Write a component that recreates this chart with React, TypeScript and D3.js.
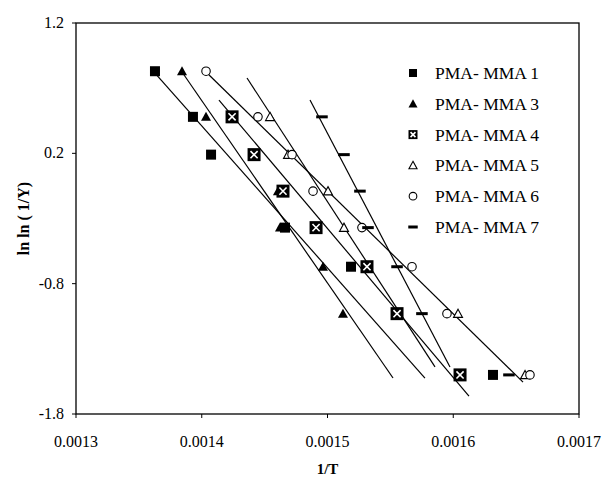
import * as d3 from "d3";

// axis ticks
const xTicks = [0.0013, 0.0014, 0.0015, 0.0016, 0.0017];
const yTicks = [1.2, 0.2, -0.8, -1.8];

const seriesNames = ["PMA- MMA 1", "PMA- MMA 3", "PMA- MMA 4", "PMA- MMA 5", "PMA- MMA 6", "PMA- MMA 7"];
const seriesShapes = ["square", "triangle", "xsquare", "otriangle", "circle", "dash"];

// points (1/T, ln ln(1/Y))
const mma1X = [0.0013628, 0.001393, 0.0014074, 0.0014662, 0.0015187, 0.0016316];
const mma1Y = [0.83, 0.48, 0.19, -0.37, -0.67, -1.5];
const mma3X = [0.0013843, 0.0014034, 0.0014606, 0.0014622, 0.0014964, 0.0015123];
const mma3Y = [0.83, 0.48, -0.09, -0.37, -0.67, -1.03];
const mma4X = [0.0014241, 0.0014416, 0.0014646, 0.0014909, 0.0015314, 0.0015553, 0.0016054];
const mma4Y = [0.48, 0.19, -0.09, -0.37, -0.67, -1.03, -1.5];
const mma5X = [0.0014543, 0.0014686, 0.0015004, 0.0015131, 0.0016038, 0.0016571];
const mma5Y = [0.48, 0.19, -0.09, -0.37, -1.03, -1.5];
const mma6X = [0.0014034, 0.0014447, 0.0014718, 0.0014885, 0.0015274, 0.0015672, 0.001595, 0.001661];
const mma6Y = [0.83, 0.48, 0.19, -0.09, -0.37, -0.67, -1.03, -1.5];
const mma7X = [0.0014956, 0.0015131, 0.0015258, 0.0015322, 0.0015553, 0.0015751, 0.0016443];
const mma7Y = [0.48, 0.19, -0.09, -0.37, -0.67, -1.03, -1.5];

// fitted lines, endpoints [x0, y0, x1, y1]
const fit1 = [0.0013628, 0.816, 0.0015775, -1.524];
const fit3 = [0.0013843, 0.824, 0.0015521, -1.524];
const fit4 = [0.0014137, 0.609, 0.0016125, -1.662];
const fit5 = [0.001436, 0.778, 0.0015855, -1.439];
const fit6 = [0.0014034, 0.824, 0.0016555, -1.555];
const fit7 = [0.0014861, 0.609, 0.0015974, -1.439];

const seriesX = [mma1X, mma3X, mma4X, mma5X, mma6X, mma7X];
const seriesY = [mma1Y, mma3Y, mma4Y, mma5Y, mma6Y, mma7Y];
const fits = [fit1, fit3, fit4, fit5, fit6, fit7];

const W = 603;
const H = 478;
const margin = { top: 23, right: 24, bottom: 64, left: 76 };
const FONT = "'Liberation Serif', 'Times New Roman', serif";

function Marker({ shape, x, y, s }: { shape: string; x: number; y: number; s: number }) {
  const h = s / 2;
  switch (shape) {
    case "square":
      return <rect x={x - h} y={y - h} width={s} height={s} fill="#000" />;
    case "triangle":
      return <path d={`M${x},${y - h}L${x + h},${y + h * 0.8}L${x - h},${y + h * 0.8}Z`} fill="#000" />;
    case "xsquare": {
      const q = h * 0.55;
      return (
        <g>
          <rect x={x - h} y={y - h} width={s} height={s} fill="#000" />
          <path d={`M${x - q},${y - q}L${x + q},${y + q}M${x + q},${y - q}L${x - q},${y + q}`} stroke="#fff" strokeWidth={1.6} />
        </g>
      );
    }
    case "otriangle":
      return (
        <path
          d={`M${x},${y - h * 0.9}L${x + h * 0.9},${y + h * 0.75}L${x - h * 0.9},${y + h * 0.75}Z`}
          fill="#fff"
          stroke="#000"
          strokeWidth={1.1}
        />
      );
    case "circle":
      return <circle cx={x} cy={y} r={h * 0.85} fill="#fff" stroke="#000" strokeWidth={1.1} />;
    default:
      return <rect x={x - h * 1.05} y={y - 1.5} width={s * 1.05} height={3} fill="#000" />;
  }
}

export default function App() {
  const width = W - margin.left - margin.right;
  const height = H - margin.top - margin.bottom;

  const xScale = d3.scaleLinear().domain([0.0013, 0.0017]).range([margin.left, margin.left + width]);
  const yScale = d3.scaleLinear().domain([-1.8, 1.2]).range([margin.top + height, margin.top]);
  const line = d3
    .line<[number, number]>()
    .x((d) => xScale(d[0]))
    .y((d) => yScale(d[1]));

  const markerSize = [10, 10, 13, 10, 10, 11];
  const legendSize = [8, 9, 9, 9, 9, 9];

  return (
    <svg
      width={W}
      height={H}
      style={{ position: "absolute", left: 0, top: 0, background: "#fff" }}
      fontFamily={FONT}
    >
      {/* fitted lines */}
      {fits.map((f, i) => (
        <path
          key={"fit" + i}
          d={line([[f[0], f[1]], [f[2], f[3]]]) ?? ""}
          stroke="#000"
          strokeWidth={1.2}
          fill="none"
        />
      ))}

      {/* points */}
      {seriesX.map((xs, si) =>
        xs.map((xv, j) => (
          <Marker
            key={`p${si}-${j}`}
            shape={seriesShapes[si]}
            x={xScale(xv)}
            y={yScale(seriesY[si][j])}
            s={markerSize[si]}
          />
        ))
      )}

      {/* frame */}
      <rect
        x={margin.left}
        y={margin.top}
        width={width}
        height={height}
        fill="none"
        stroke="#000"
        strokeWidth={1.3}
      />

      {/* x axis ticks */}
      {xTicks.map((t) => (
        <g key={"xt" + t}>
          <line x1={xScale(t)} x2={xScale(t)} y1={margin.top + height} y2={margin.top + height + 4} stroke="#000" />
          <text x={xScale(t)} y={margin.top + height + 33} textAnchor="middle" fontSize={16}>
            {t.toFixed(4)}
          </text>
        </g>
      ))}

      {/* y axis ticks */}
      {yTicks.map((t) => (
        <g key={"yt" + t}>
          <line x1={margin.left - 4} x2={margin.left} y1={yScale(t)} y2={yScale(t)} stroke="#000" />
          <text x={margin.left - 12} y={yScale(t) + 5} textAnchor="end" fontSize={16}>
            {t.toFixed(1)}
          </text>
        </g>
      ))}

      {/* axis titles */}
      <text x={margin.left + width / 2} y={H - 4} textAnchor="middle" fontSize={15} fontWeight="bold">
        1/T
      </text>
      <text
        transform={`translate(29,${margin.top + height / 2}) rotate(-90)`}
        textAnchor="middle"
        fontSize={16}
        fontWeight="bold"
      >
        ln ln ( 1/Y)
      </text>

      {/* legend */}
      {seriesNames.map((name, i) => {
        const ly = 73 + i * 30.8;
        return (
          <g key={"lg" + i}>
            <Marker shape={seriesShapes[i]} x={413} y={ly} s={legendSize[i]} />
            <text x={435} y={ly + 6} fontSize={17.5}>
              {name}
            </text>
          </g>
        );
      })}
    </svg>
  );
}
